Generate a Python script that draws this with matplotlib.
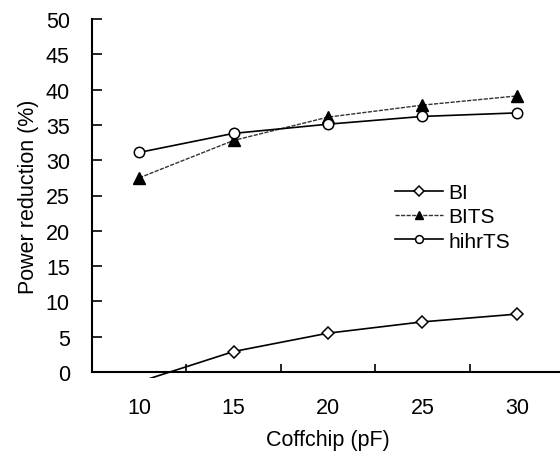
import matplotlib
matplotlib.use('Agg')
from matplotlib import pyplot as plt
from matplotlib.patches import Rectangle
import numpy as np

plt.rcParams['font.family'] = ['Liberation Sans', 'DejaVu Sans']

# data
coffchip = ['10', '15', '20', '25', '30']
bi = [-1.4, 2.9, 5.5, 7.1, 8.2]
bits = [27.5, 32.8, 36.1, 37.8, 39.1]
hihrts = [31.1, 33.8, 35.1, 36.2, 36.7]
y_ticks = [0, 5, 10, 15, 20, 25, 30, 35, 40, 45, 50]

fig = plt.figure(figsize=(5.6, 4.6), dpi=100)
ax = fig.add_axes([92 / 560, 87 / 460, 472 / 560, 353 / 460])

x = np.arange(len(coffchip))

line_bi, = ax.plot(x, bi, color='black', lw=1.2, marker='D', markersize=6.5,
                   markerfacecolor='white', markeredgecolor='black',
                   markeredgewidth=1.1, markevery=[1, 2, 3, 4], label='BI')
line_bits, = ax.plot(x, bits, color='0.2', lw=1.0, linestyle=(0, (3, 1)),
                     marker='^', markersize=8, markerfacecolor='black',
                     markeredgecolor='black', label='BITS')
line_hihr, = ax.plot(x, hihrts, color='black', lw=1.2, marker='o', markersize=7.5,
                     markerfacecolor='white', markeredgecolor='black',
                     markeredgewidth=1.1, label='hihrTS')

# the BI line runs a little below the x axis before it is cut
clip = Rectangle((0, -0.017), 1, 1.05, transform=ax.transAxes)
line_bi.set_clip_path(clip)

ax.set_xlim(-0.5, 4.5)
ax.set_ylim(0, 50)
ax.set_xticks(x)
ax.set_xticklabels(coffchip)
ax.set_xticks(x[:-1] + 0.5, minor=True)
ax.set_yticks(y_ticks)
ax.tick_params(axis='x', which='major', length=0, pad=18, labelsize=15.5)
ax.tick_params(axis='x', which='minor', direction='in', length=6, width=1.2)
ax.tick_params(axis='y', direction='in', length=7, width=1.2, pad=16,
               labelsize=15.5)

for side in ['top', 'right']:
    ax.spines[side].set_visible(False)
for side in ['left', 'bottom']:
    ax.spines[side].set_linewidth(1.5)

ax.set_xlabel('Coffchip (pF)', fontsize=15.5, labelpad=8)
ax.set_ylabel('Power reduction (%)', fontsize=15.5, labelpad=5)

fig.legend(handles=[line_bi, line_bits, line_hihr], loc='center left',
           bbox_to_anchor=(395 / 560, 1 - 218 / 460), frameon=False,
           fontsize=15, borderpad=0, borderaxespad=0, handlelength=2.3,
           handletextpad=0.25, labelspacing=0.25, markerscale=0.75)

plt.savefig('out.png', dpi=100)
plt.close('all')
